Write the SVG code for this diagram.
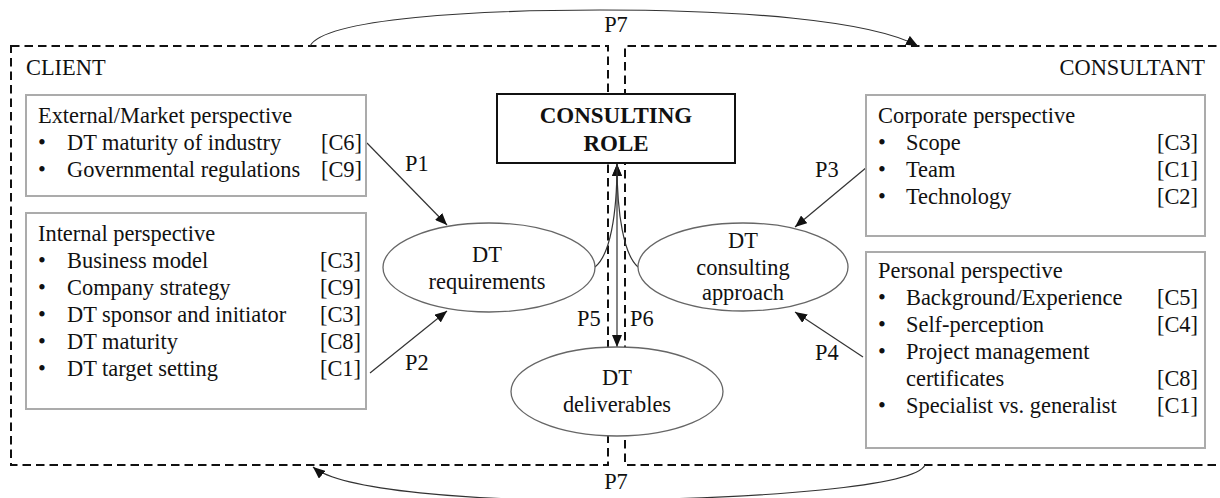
<svg xmlns="http://www.w3.org/2000/svg" width="1220" height="498" viewBox="0 0 1220 498" font-family="'Liberation Serif', 'Times New Roman', 'DejaVu Serif', serif" font-size="22.4">
  <defs>
    <marker id="arrow" viewBox="0 0 12 10" refX="12" refY="5" markerWidth="12" markerHeight="10" markerUnits="userSpaceOnUse" orient="auto">
      <path d="M0,0 L12,5 L0,10 z" fill="#111"/>
    </marker>
    <style>
      text { fill: #111; }
      .bold { font-weight: bold; font-size: 23px; }
      .mid { text-anchor: middle; }
      .end { text-anchor: end; }
      .dash { fill: none; stroke: #111; stroke-width: 2; stroke-dasharray: 8.5 5; }
      .panel { fill: #fff; stroke: #ababab; stroke-width: 2; }
      .oval { fill: #fff; stroke: #666; stroke-width: 1.3; }
      .link { fill: none; stroke: #333; stroke-width: 1.2; marker-end: url(#arrow); }
    </style>
  </defs>
  <rect width="1220" height="498" fill="#fff"/>

  <!-- client / consultant regions -->
  <g id="regions">
    <rect class="dash" x="11" y="46" width="597" height="419"/>
    <path class="dash" d="M1230,46 H625 V465 H1230"/>
    <text x="26" y="75">CLIENT</text>
    <text class="end" x="1205" y="75">CONSULTANT</text>
  </g>

  <!-- connectors -->
  <g id="connectors">
    <line class="link" x1="367" y1="143" x2="447" y2="225"/>
    <line class="link" x1="370" y1="373" x2="447" y2="311"/>
    <line class="link" x1="867" y1="167" x2="795" y2="227"/>
    <line class="link" x1="863" y1="357" x2="795" y2="312"/>
    <path class="link" d="M595,267 C610,255 617,215 617,164"/>
    <path class="link" d="M638,267 C624,255 617,215 617,164"/>
    <line class="link" x1="617" y1="164" x2="617" y2="347"/>
    <path class="link" d="M310,46 C325,18 480,10 600,10 C740,10 870,20 918,46"/>
    <path class="link" d="M925,465 C915,487 760,498 617,500 C470,502 340,490 313,467"/>
    <text x="405" y="171">P1</text>
    <text x="405" y="370">P2</text>
    <text x="815" y="177">P3</text>
    <text x="815" y="360">P4</text>
    <text x="577" y="326">P5</text>
    <text x="630" y="326">P6</text>
    <text class="mid" x="616" y="32">P7</text>
    <text class="mid" x="616" y="489">P7</text>
  </g>

  <g id="consulting-role">
    <rect x="497" y="94" width="238" height="69" fill="#fff" stroke="#111" stroke-width="2"/>
    <text class="bold mid" x="616" y="123">CONSULTING</text>
    <text class="bold mid" x="616" y="151">ROLE</text>
  </g>

  <g id="external-perspective">
    <rect class="panel" x="26" y="95" width="340" height="101"/>
    <text x="38" y="123">External/Market perspective</text>
    <text x="38" y="150">•</text><text x="67" y="150">DT maturity of industry</text><text class="end" x="362" y="150">[C6]</text>
    <text x="38" y="177">•</text><text x="67" y="177">Governmental regulations</text><text class="end" x="362" y="177">[C9]</text>
  </g>

  <g id="internal-perspective">
    <rect class="panel" x="26" y="213" width="340" height="196"/>
    <text x="38" y="241">Internal perspective</text>
    <text x="38" y="268">•</text><text x="67" y="268">Business model</text><text class="end" x="361" y="268">[C3]</text>
    <text x="38" y="295">•</text><text x="67" y="295">Company strategy</text><text class="end" x="361" y="295">[C9]</text>
    <text x="38" y="322">•</text><text x="67" y="322">DT sponsor and initiator</text><text class="end" x="361" y="322">[C3]</text>
    <text x="38" y="349">•</text><text x="67" y="349">DT maturity</text><text class="end" x="361" y="349">[C8]</text>
    <text x="38" y="376">•</text><text x="67" y="376">DT target setting</text><text class="end" x="361" y="376">[C1]</text>
  </g>

  <g id="corporate-perspective">
    <rect class="panel" x="866" y="95" width="339" height="141"/>
    <text x="878" y="123">Corporate perspective</text>
    <text x="878" y="150">•</text><text x="906" y="150">Scope</text><text class="end" x="1198" y="150">[C3]</text>
    <text x="878" y="177">•</text><text x="906" y="177">Team</text><text class="end" x="1198" y="177">[C1]</text>
    <text x="878" y="204">•</text><text x="906" y="204">Technology</text><text class="end" x="1198" y="204">[C2]</text>
  </g>

  <g id="personal-perspective">
    <rect class="panel" x="866" y="252" width="339" height="196"/>
    <text x="878" y="278">Personal perspective</text>
    <text x="878" y="305">•</text><text x="906" y="305">Background/Experience</text><text class="end" x="1198" y="305">[C5]</text>
    <text x="878" y="332">•</text><text x="906" y="332">Self-perception</text><text class="end" x="1198" y="332">[C4]</text>
    <text x="878" y="359">•</text><text x="906" y="359">Project management</text>
    <text x="906" y="386">certificates</text><text class="end" x="1198" y="386">[C8]</text>
    <text x="878" y="413">•</text><text x="906" y="413">Specialist vs. generalist</text><text class="end" x="1198" y="413">[C1]</text>
  </g>

  <g id="dt-requirements">
    <ellipse class="oval" cx="489" cy="267.5" rx="106" ry="44.5"/>
    <text class="mid" x="487" y="262">DT</text>
    <text class="mid" x="487" y="289">requirements</text>
  </g>

  <g id="dt-consulting-approach">
    <ellipse class="oval" cx="743" cy="267" rx="105" ry="44"/>
    <text class="mid" x="743" y="248">DT</text>
    <text class="mid" x="743" y="275">consulting</text>
    <text class="mid" x="743" y="300">approach</text>
  </g>

  <g id="dt-deliverables">
    <ellipse class="oval" cx="617" cy="391.5" rx="106" ry="44.5"/>
    <text class="mid" x="617" y="385">DT</text>
    <text class="mid" x="617" y="412">deliverables</text>
  </g>
</svg>
